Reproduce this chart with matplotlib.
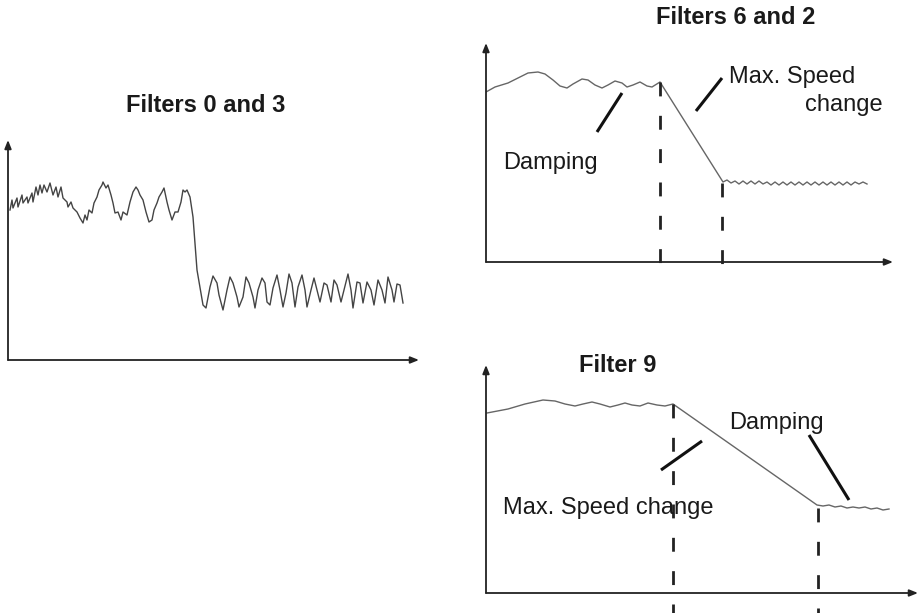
import matplotlib
matplotlib.use("Agg")
import matplotlib.pyplot as plt

plt.rcParams['font.family'] = ['Liberation Sans', 'DejaVu Sans']

# Filters 0 and 3: noisy signal with a fast step
t1 = [2, 4, 5, 9, 10, 14, 15, 19, 20, 24, 25, 28, 30, 32, 34, 36, 39, 42, 45, 48,
      50, 53, 55, 59, 60, 63, 65, 69, 72, 75, 77, 79, 81, 84, 86, 89, 91, 94, 95, 98,
      100, 103, 105, 107, 110, 113, 115, 119, 122, 125, 128, 130, 132, 135, 138, 141, 144, 146, 149, 151,
      154, 156, 159, 161, 164, 167, 170, 173, 175, 177, 179, 182, 185, 187, 189, 193, 195, 198, 202, 205,
      209, 211, 215, 219, 222, 225, 229, 231, 235, 238, 241, 245, 247, 250, 254, 257, 259, 262, 265, 269,
      272, 275, 278, 281, 284, 287, 290, 294, 297, 299, 303, 306, 309, 312, 316, 319, 323, 326, 329, 333,
      336, 340, 343, 345, 349, 352, 355, 359, 363, 366, 370, 374, 377, 380, 384, 386, 389, 392, 395]
v1 = [150, 160, 152, 162, 153, 165, 157, 163, 157, 167, 158, 173, 165, 175, 167, 175, 168, 177, 165, 173,
      163, 173, 162, 158, 153, 158, 152, 148, 142, 137, 145, 140, 150, 147, 157, 163, 170, 175, 178, 172,
      175, 165, 157, 147, 148, 140, 148, 145, 158, 168, 173, 170, 165, 160, 148, 138, 140, 150, 157, 163,
      168, 172, 158, 150, 140, 148, 148, 158, 170, 168, 170, 163, 143, 117, 90, 67, 55, 52, 73, 84,
      77, 65, 50, 70, 83, 77, 63, 53, 63, 83, 77, 63, 52, 70, 82, 77, 58, 55, 72, 85,
      70, 53, 67, 86, 77, 53, 73, 85, 70, 53, 70, 82, 70, 58, 77, 75, 58, 80, 75, 58,
      70, 86, 70, 52, 78, 77, 57, 78, 70, 55, 80, 70, 57, 83, 70, 58, 76, 75, 57]

# Filters 6 and 2: damped wiggle, ramp, small ripple
t2 = [0, 9, 22, 32, 42, 52, 59, 67, 74, 81, 87, 96, 102, 109, 116, 122, 129, 136, 141, 147,
      154, 161, 166, 174, 237, 241, 245, 249, 253, 257, 261, 265, 269, 273, 277, 281, 285, 289, 293, 297,
      301, 305, 309, 313, 317, 321, 325, 329, 333, 337, 341, 345, 349, 353, 357, 361, 365, 369, 373, 377, 381]
v2 = [170, 175, 179, 184, 189, 190, 188, 182, 176, 174, 178, 183, 182, 177, 174, 177, 181, 179, 175, 177,
      180, 176, 175, 180, 80, 82, 79, 81, 78, 81, 78, 81, 78, 81, 78, 80, 77, 80, 77, 80,
      77, 80, 77, 80, 77, 80, 77, 80, 77, 80, 77, 80, 77, 80, 77, 80, 77, 80, 78, 80, 78]
marks2_t = [174, 236]
marks2_v = [180, 79]

# Filter 9: slow ramp
t3 = [1, 22, 39, 57, 69, 79, 89, 97, 106, 114, 124, 132, 139, 146, 154, 162, 171, 179, 187, 331,
      337, 343, 349, 355, 361, 367, 373, 379, 385, 391, 397, 403]
v3 = [180, 184, 189, 193, 192, 189, 187, 189, 191, 189, 186, 188, 190, 188, 187, 190, 188, 187, 189, 88,
      87, 88, 86, 87, 85, 86, 85, 86, 84, 85, 83, 84]
marks3_t = [187, 332]
marks3_v = [189, 85]

W, H = 924, 613
fig = plt.figure(figsize=(W / 100, H / 100), dpi=100)
fig.patch.set_facecolor('white')

def panel(left, right, bottom, top):
    ax = fig.add_axes([left / W, 1 - bottom / H, (right - left) / W, (bottom - top) / H])
    ax.set_xlim(0, right - left)
    ax.set_ylim(0, bottom - top)
    ax.axis('off')
    arrow = dict(arrowstyle='-|>,head_length=0.5,head_width=0.2', lw=1.3, color='#222222',
                 shrinkA=0, shrinkB=0)
    ax.annotate('', xy=(1, 0), xytext=(0, 0), xycoords='axes fraction', arrowprops=arrow)
    ax.annotate('', xy=(0, 1), xytext=(0, 0), xycoords='axes fraction', arrowprops=arrow)
    return ax

def leader(ax, x0, y0, x1, y1):
    ax.plot([x0, x1], [y0, y1], color='#111111', lw=2.2, solid_capstyle='butt')

fs = 17

ax1 = panel(8, 419, 360, 140)
ax1.plot(t1, v1, color='#444444', lw=1.0)
fig.text(206 / W, 1 - 105 / H, 'Filters 0 and 3', ha='center', va='center',
         fontsize=fs, fontweight='bold', color='#1a1a1a')

ax2 = panel(486, 893, 262, 43)
ax2.plot(t2, v2, color='#666666', lw=1.0)
for t, v in zip(marks2_t, marks2_v):
    ax2.plot([t, t], [v, -10], color='#222222', lw=2, ls=(0, (5, 7)), clip_on=False)
leader(ax2, 136, 169, 111, 130)
leader(ax2, 236, 184, 210, 151)
ax2.text(17, 99, 'Damping', fontsize=fs, va='center', ha='left', color='#1a1a1a')
ax2.text(243, 185, 'Max. Speed', fontsize=fs, va='center', ha='left', color='#1a1a1a')
ax2.text(397, 157, 'change', fontsize=fs, va='center', ha='right', color='#1a1a1a')
fig.text(736 / W, 1 - 18 / H, 'Filters 6 and 2', ha='center', va='center',
         fontsize=fs, fontweight='bold', color='#1a1a1a')

ax3 = panel(486, 918, 593, 365)
ax3.plot(t3, v3, color='#666666', lw=1.0)
for t, v in zip(marks3_t, marks3_v):
    ax3.plot([t, t], [v, -20], color='#222222', lw=2, ls=(0, (5, 7)), clip_on=False)
leader(ax3, 216, 152, 175, 123)
leader(ax3, 323, 158, 363, 93)
ax3.text(243, 170, 'Damping', fontsize=fs, va='center', ha='left', color='#1a1a1a')
ax3.text(17, 85, 'Max. Speed change', fontsize=fs, va='center', ha='left', color='#1a1a1a')
fig.text(618 / W, 1 - 366 / H, 'Filter 9', ha='center', va='center',
         fontsize=fs, fontweight='bold', color='#1a1a1a')

fig.savefig('out.png', dpi=100, facecolor='white')
